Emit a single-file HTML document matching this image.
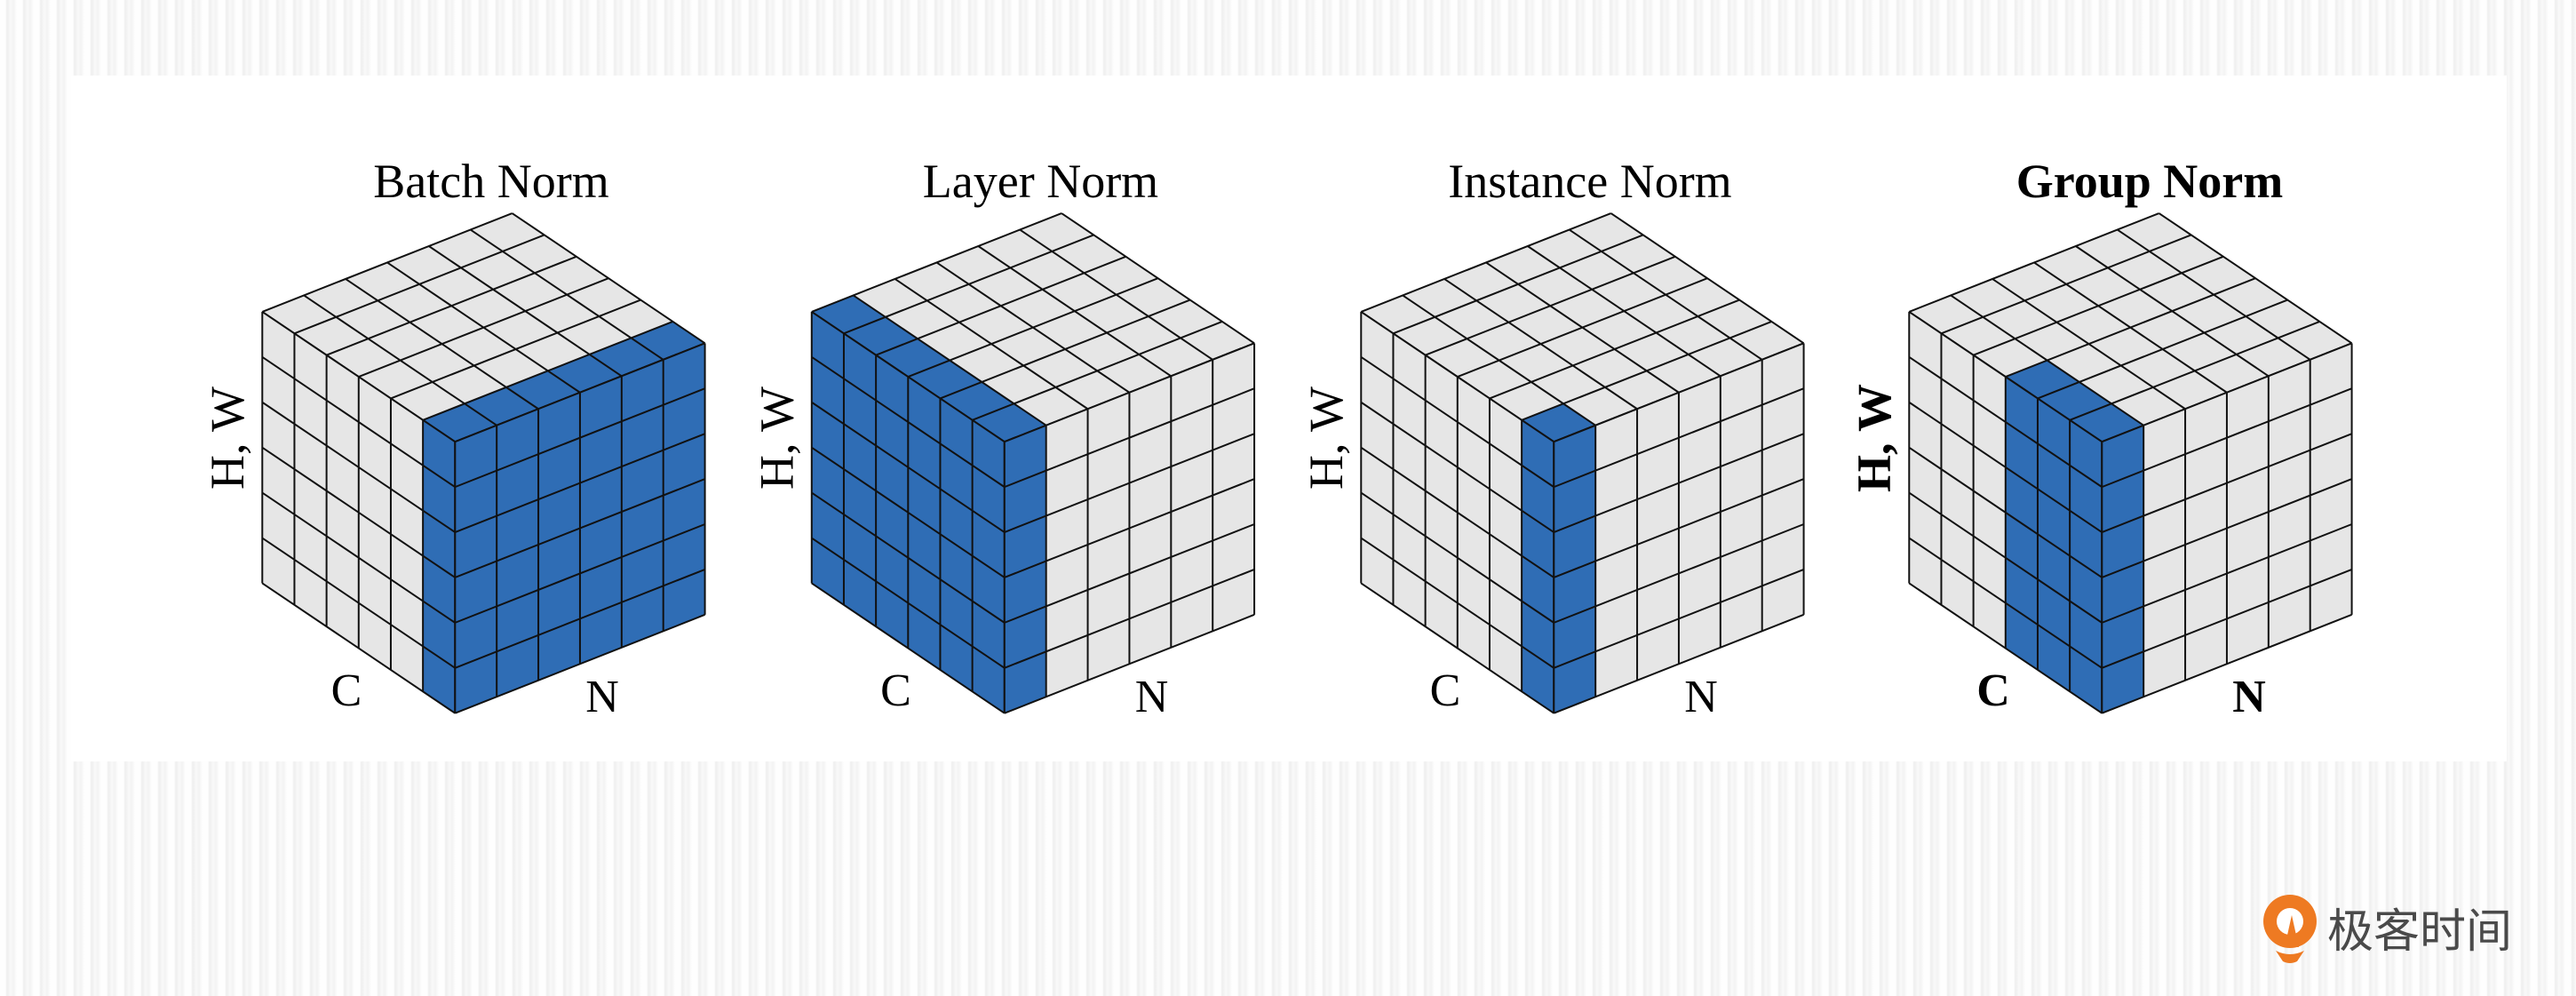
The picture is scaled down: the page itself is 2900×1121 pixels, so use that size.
<!DOCTYPE html>
<html><head><meta charset="utf-8"><style>
html,body{margin:0;padding:0}
body{width:2900px;height:1121px;overflow:hidden;position:relative;
background:#f5f5f5;
background-image:repeating-linear-gradient(90deg,rgba(255,255,255,0.9) 0px,rgba(255,255,255,0.9) 6px,rgba(232,232,232,0.5) 8px,rgba(250,250,250,0.8) 12px,rgba(240,240,240,0.4) 15px,rgba(255,255,255,0.9) 19px);}
.panel{position:absolute;left:80px;top:85px;width:2742px;height:772px;background:#fff}
svg{position:absolute;left:0;top:0}
</style></head><body>
<div class="panel"></div>
<svg width="2900" height="1121" viewBox="0 0 2900 1121" xmlns="http://www.w3.org/2000/svg">
<defs>
<path id="grid" d="M0 0V6M1 0V6M2 0V6M3 0V6M4 0V6M5 0V6M6 0V6M0 0H6M0 1H6M0 2H6M0 3H6M0 4H6M0 5H6M0 6H6" fill="none" stroke="#111" stroke-width="2" vector-effect="non-scaling-stroke"/>
</defs>
<g font-family="Liberation Serif, serif" fill="#000">
<!-- Cube 1: Batch Norm -->
<g>
<g transform="matrix(-36.17,-24.38,46.88,-18.48,512.3,497.2)"><rect width="6" height="6" fill="#e6e6e6"/><rect width="1" height="6" fill="#2f6db5"/><use href="#grid"/></g>
<g transform="matrix(-36.17,-24.38,0,50.92,512.3,497.2)"><rect width="6" height="6" fill="#e6e6e6"/><rect width="1" height="6" fill="#2f6db5"/><use href="#grid"/></g>
<g transform="matrix(46.88,-18.48,0,50.92,512.3,497.2)"><rect width="6" height="6" fill="#2f6db5"/><use href="#grid"/></g>
<text x="553" y="222" font-size="54" text-anchor="middle">Batch Norm</text>
<text x="390" y="794" font-size="52" text-anchor="middle">C</text>
<text x="678" y="801" font-size="52" text-anchor="middle">N</text>
<text transform="translate(274,493) rotate(-90)" font-size="54" text-anchor="middle">H, W</text>
</g>
<!-- Cube 2: Layer Norm -->
<g transform="translate(618.5,0)">
<g transform="matrix(-36.17,-24.38,46.88,-18.48,512.3,497.2)"><rect width="6" height="6" fill="#e6e6e6"/><rect width="6" height="1" fill="#2f6db5"/><use href="#grid"/></g>
<g transform="matrix(-36.17,-24.38,0,50.92,512.3,497.2)"><rect width="6" height="6" fill="#2f6db5"/><use href="#grid"/></g>
<g transform="matrix(46.88,-18.48,0,50.92,512.3,497.2)"><rect width="6" height="6" fill="#e6e6e6"/><rect width="1" height="6" fill="#2f6db5"/><use href="#grid"/></g>
<text x="553" y="222" font-size="54" text-anchor="middle">Layer Norm</text>
<text x="390" y="794" font-size="52" text-anchor="middle">C</text>
<text x="678" y="801" font-size="52" text-anchor="middle">N</text>
<text transform="translate(274,493) rotate(-90)" font-size="54" text-anchor="middle">H, W</text>
</g>
<!-- Cube 3: Instance Norm -->
<g transform="translate(1237,0)">
<g transform="matrix(-36.17,-24.38,46.88,-18.48,512.3,497.2)"><rect width="6" height="6" fill="#e6e6e6"/><rect width="1" height="1" fill="#2f6db5"/><use href="#grid"/></g>
<g transform="matrix(-36.17,-24.38,0,50.92,512.3,497.2)"><rect width="6" height="6" fill="#e6e6e6"/><rect width="1" height="6" fill="#2f6db5"/><use href="#grid"/></g>
<g transform="matrix(46.88,-18.48,0,50.92,512.3,497.2)"><rect width="6" height="6" fill="#e6e6e6"/><rect width="1" height="6" fill="#2f6db5"/><use href="#grid"/></g>
<text x="553" y="222" font-size="54" text-anchor="middle">Instance Norm</text>
<text x="390" y="794" font-size="52" text-anchor="middle">C</text>
<text x="678" y="801" font-size="52" text-anchor="middle">N</text>
<text transform="translate(274,493) rotate(-90)" font-size="54" text-anchor="middle">H, W</text>
</g>
<!-- Cube 4: Group Norm -->
<g transform="translate(1854,0)" font-weight="bold">
<g transform="matrix(-36.17,-24.38,46.88,-18.48,512.3,497.2)"><rect width="6" height="6" fill="#e6e6e6"/><rect width="3" height="1" fill="#2f6db5"/><use href="#grid"/></g>
<g transform="matrix(-36.17,-24.38,0,50.92,512.3,497.2)"><rect width="6" height="6" fill="#e6e6e6"/><rect width="3" height="6" fill="#2f6db5"/><use href="#grid"/></g>
<g transform="matrix(46.88,-18.48,0,50.92,512.3,497.2)"><rect width="6" height="6" fill="#e6e6e6"/><rect width="1" height="6" fill="#2f6db5"/><use href="#grid"/></g>
<text x="566" y="222" font-size="54" text-anchor="middle">Group Norm</text>
<text x="390" y="794" font-size="52" text-anchor="middle">C</text>
<text x="678" y="801" font-size="52" text-anchor="middle">N</text>
<text transform="translate(274,493) rotate(-90)" font-size="54" text-anchor="middle">H, W</text>
</g>
</g>
<!-- Logo -->
<g>
<circle cx="2578" cy="1037" r="30" fill="#ee7a22"/>
<circle cx="2578" cy="1037" r="15" fill="#fff"/>
<path d="M2572 1066 L2580 1030 L2588 1066 Z" fill="#ee7a22"/>
<path d="M2562 1070 Q2578 1078 2594 1070 L2586 1082 Q2578 1086 2570 1082 Z" fill="#ee7a22"/>
</g>
<text x="2620" y="1066" font-family="Noto Sans CJK SC, WenQuanYi Zen Hei, sans-serif" font-size="52" fill="#4a4a4a">极客时间</text>
</svg>
</body></html>
